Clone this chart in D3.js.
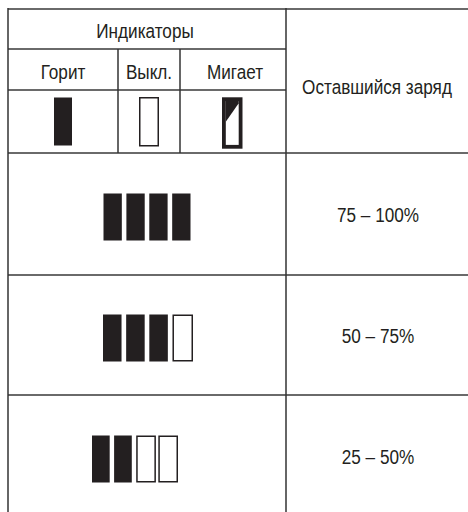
<!DOCTYPE html>
<html>
<head>
<meta charset="utf-8">
<script src="https://cdn.jsdelivr.net/npm/d3@7"></script>
<style>
  body { margin: 0; background: #fff; }
  svg { display: block; }
  text { font-family: "Liberation Sans", Arial, sans-serif; fill: #231f20; }
</style>
</head>
<body>
<svg id="table" width="468" height="512"></svg>
<script>
const groupTitle = "Индикаторы";
const stateLabels = ["Горит", "Выкл.", "Мигает"];
const chargeTitle = "Оставшийся заряд";
const levelLabels = ["75 – 100%", "50 – 75%", "25 – 50%"];
const litSegments = [4, 3, 2];
const segmentCount = 4;

// table grid (px)
const colEdges = [8, 118, 180, 286, 470];
const rowEdges = [9, 49, 90, 153, 275, 395, 518];
const barRanges = [[103.5, 190.5], [103, 191], [92, 176]];

const dark = "#231f20";
const svg = d3.select("#table");

const fontSize = 19.5;
const squeeze = 0.88;

function label(x, y, txt) {
  svg.append("text")
    .attr("transform", `translate(${x},${y}) scale(${squeeze},1)`)
    .attr("text-anchor", "middle")
    .style("font-size", fontSize + "px")
    .text(txt);
}

// grid lines
const hLines = [
  { y: rowEdges[0], x1: colEdges[0], x2: 468 },
  { y: rowEdges[1], x1: colEdges[0], x2: colEdges[3] },
  { y: rowEdges[2], x1: colEdges[0], x2: colEdges[3] },
  { y: rowEdges[3], x1: colEdges[0], x2: 468 },
  { y: rowEdges[4], x1: colEdges[0], x2: 468 },
  { y: rowEdges[5], x1: colEdges[0], x2: 468 }
];
svg.selectAll("line.h").data(hLines).enter().append("line")
  .attr("class", "h")
  .attr("x1", d => d.x1).attr("x2", d => d.x2)
  .attr("y1", d => d.y).attr("y2", d => d.y)
  .attr("stroke", "#6a6a6a").attr("stroke-width", 2);

const vLines = [
  { x: colEdges[0], y1: rowEdges[0] - 1, y2: 512 },
  { x: colEdges[1], y1: rowEdges[1], y2: rowEdges[3] },
  { x: colEdges[2], y1: rowEdges[1], y2: rowEdges[3] },
  { x: colEdges[3], y1: rowEdges[0] - 1, y2: 512 }
];
svg.selectAll("line.v").data(vLines).enter().append("line")
  .attr("class", "v")
  .attr("x1", d => d.x).attr("x2", d => d.x)
  .attr("y1", d => d.y1).attr("y2", d => d.y2)
  .attr("stroke", "#333").attr("stroke-width", 1.5);

// header texts
label((colEdges[0] + colEdges[3]) / 2 - 2, 38, groupTitle);
stateLabels.forEach((s, i) => label((colEdges[i] + colEdges[i + 1]) / 2 + (i === 2 ? 2 : 0), 79, s));
label((colEdges[3] + colEdges[4]) / 2 - 1, 94, chargeTitle);

// legend icons
const iconTop = 97.5, iconH = 48;
const cx = i => (colEdges[i] + colEdges[i + 1]) / 2;
svg.append("rect")
  .attr("x", cx(0) - 9).attr("y", iconTop).attr("width", 18).attr("height", iconH)
  .attr("fill", dark);
svg.append("rect")
  .attr("x", cx(1) - 9.25).attr("y", iconTop + 0.25).attr("width", 18.5).attr("height", iconH)
  .attr("fill", "#fff").attr("stroke", dark).attr("stroke-width", 1.5);
// blinking icon
const bx = cx(2) - 11, by = 97.3, bw = 20.5, bh = 51.4, t = 3.8;
svg.append("rect")
  .attr("x", bx + t / 2).attr("y", by + t / 2).attr("width", bw - t).attr("height", bh - t)
  .attr("fill", "#fff").attr("stroke", dark).attr("stroke-width", t);
svg.append("path")
  .attr("d", d3.line()([[bx + t, by + t], [bx + bw - t, by + t], [bx + bw - t, by + 6], [bx + t, by + 24.5]]) + "Z")
  .attr("fill", dark);

// level rows
levelLabels.forEach((lvl, r) => {
  const top = rowEdges[r + 3], bottom = rowEdges[r + 4];
  const mid = (top + bottom) / 2;
  const x = d3.scaleBand().domain(d3.range(segmentCount)).range(barRanges[r]).paddingInner(0.2);
  const segs = d3.range(segmentCount).map(i => ({ i, on: i < litSegments[r] }));
  const barTop = mid - 21 + (r === 2 ? 0 : 0.5);
  const g = svg.append("g");
  g.selectAll("rect").data(segs).enter().append("rect")
    .attr("x", d => d.on ? x(d.i) : x(d.i) + 0.75)
    .attr("y", d => d.on ? barTop : barTop + 0.75)
    .attr("width", d => d.on ? x.bandwidth() : x.bandwidth() + 0.5)
    .attr("height", d => d.on ? 47 : 45.5)
    .attr("fill", d => d.on ? dark : "#fff")
    .attr("stroke", d => d.on ? "none" : dark)
    .attr("stroke-width", 1.5);
  label((colEdges[3] + colEdges[4]) / 2, mid + 7.5, lvl);
});
</script>
</body>
</html>
